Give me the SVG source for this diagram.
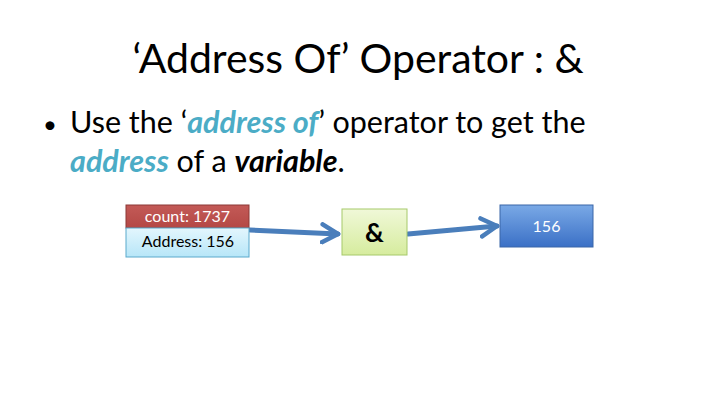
<svg xmlns="http://www.w3.org/2000/svg" width="720" height="405" viewBox="0 0 720 405">
<defs>
<style>
.t{font-family:"Lato","Open Sans","Liberation Sans",sans-serif}
.conn{fill:none;stroke:#4a7ebb;stroke-width:5;stroke-linecap:round}
</style>
<linearGradient id="gBlueL" x1="0" y1="0" x2="0" y2="1"><stop offset="0" stop-color="#e3f6fd"/><stop offset="1" stop-color="#b7e6f8"/></linearGradient>
<linearGradient id="gGreen" x1="0" y1="0" x2="0" y2="1"><stop offset="0" stop-color="#f0f8d8"/><stop offset="1" stop-color="#d6ec9e"/></linearGradient>
<linearGradient id="gBlue" x1="0" y1="0" x2="0" y2="1"><stop offset="0" stop-color="#7aa9e6"/><stop offset="1" stop-color="#3b70c6"/></linearGradient>
<linearGradient id="gRed" x1="0" y1="0" x2="0" y2="1"><stop offset="0" stop-color="#c35a57"/><stop offset="1" stop-color="#b44845"/></linearGradient>
<marker id="ah" viewBox="0 0 10 10" refX="8" refY="5" markerWidth="4.5" markerHeight="4.5" orient="auto" markerUnits="strokeWidth">
<path d="M1,1 L8,5 L1,9" fill="none" stroke="#4a7ebb" stroke-width="2" stroke-linecap="round" stroke-linejoin="round"/>
</marker>
</defs>
<rect width="720" height="405" fill="#ffffff"/>
<text class="t" x="358" y="73" font-size="41" text-anchor="middle" fill="#000">‘Address Of’ Operator : &amp;</text>
<text class="t" x="43" y="133" font-size="24" fill="#000">•</text>
<text class="t" x="70" y="133" font-size="30.5" fill="#000">Use the ‘<tspan fill="#4bacc6" font-weight="bold" font-style="italic">address of</tspan>’ operator to get the</text>
<text class="t" x="70" y="172" font-size="30.5" fill="#000"><tspan fill="#4bacc6" font-weight="bold" font-style="italic">address</tspan> of a <tspan font-weight="bold" font-style="italic">variable</tspan>.</text>
<g id="connectors">
<path class="conn" d="M250,230 L338,234" marker-end="url(#ah)"/>
<path class="conn" d="M408,234 L497,226" marker-end="url(#ah)"/>
</g>
<g id="variable">
<rect x="126" y="205" width="123" height="23" fill="url(#gRed)" stroke="#8c3836" stroke-width="1"/>
<text class="t" x="187.5" y="222" font-size="16" text-anchor="middle" fill="#ffffff">count: 1737</text>
<rect x="126" y="228" width="123" height="29" fill="url(#gBlueL)" stroke="#5aa9cc" stroke-width="1"/>
<text class="t" x="188" y="247" font-size="16" text-anchor="middle" fill="#000">Address: 156</text>
</g>
<g id="op">
<rect x="342" y="209" width="65" height="46" fill="url(#gGreen)" stroke="#a6c96a" stroke-width="1"/>
<text class="t" x="374.5" y="242" font-size="26" font-weight="bold" text-anchor="middle" fill="#000">&amp;</text>
</g>
<g id="result">
<rect x="500" y="205" width="93" height="42" fill="url(#gBlue)" stroke="#3a66a8" stroke-width="1"/>
<text class="t" x="546.5" y="232" font-size="16" text-anchor="middle" fill="#ffffff">156</text>
</g>
</svg>
